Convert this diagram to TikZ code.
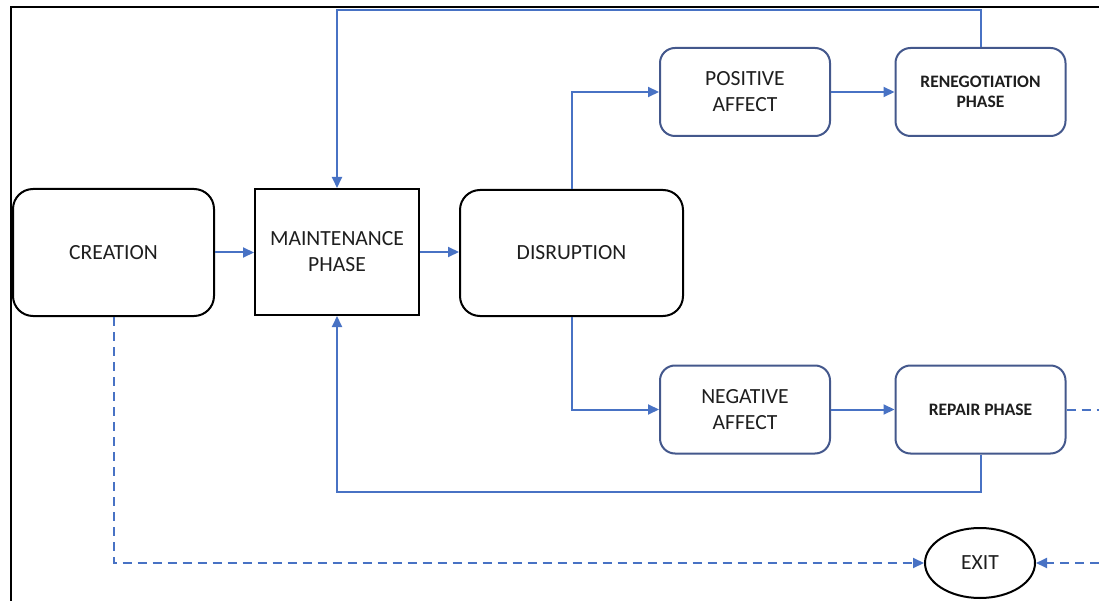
\documentclass[tikz,border=0pt]{standalone}
\usepackage{fontspec}
\setmainfont{Carlito}
\usetikzlibrary{arrows.meta,shapes.geometric}
\definecolor{lnblue}{RGB}{72,114,196}
\definecolor{bxblue}{RGB}{68,88,140}
\definecolor{txt}{RGB}{30,30,30}
\tikzset{
  blackbox/.style={draw=black,line width=2pt,rounded corners=20pt,align=center,text=txt,font=\fontsize{21.6}{26}\selectfont},
  squarebox/.style={draw=black,line width=2pt,align=center,text=txt,font=\fontsize{21.6}{26}\selectfont},
  bluebox/.style={draw=bxblue,line width=2pt,rounded corners=15pt,align=center,text=txt,minimum width=170pt,minimum height=88pt,font=\fontsize{21.6}{26}\selectfont},
  boldbox/.style={bluebox,font=\fontsize{17.5}{20}\selectfont\bfseries},
  conn/.style={draw=lnblue,line width=2pt},
  arr/.style={conn,-{Triangle[length=11pt,width=10pt]}},
  dsh/.style={conn,dash pattern=on 9pt off 6pt},
}
\begin{document}
\begin{tikzpicture}[x=1pt,y=-1pt]
\useasboundingbox (0,0) rectangle (1099,601);
% frame
\draw[line width=2pt,black] (11,601) -- (11,7) -- (1099,7);
% nodes
\node[blackbox,minimum width=201pt,minimum height=127pt] (cre) at (113.5,252.5) {CREATION};
\node[squarebox,minimum width=164pt,minimum height=126pt] (mai) at (337,252) {MAINTENANCE\\PHASE};
\node[blackbox,minimum width=223pt,minimum height=126pt] (dis) at (571.5,253) {DISRUPTION};
\node[bluebox] (pos) at (745,92) {POSITIVE\\AFFECT};
\node[boldbox] (ren) at (980.5,92) {RENEGOTIATION\\PHASE};
\node[bluebox] (neg) at (745,409.5) {NEGATIVE\\AFFECT};
\node[boldbox] (rep) at (980.5,409.5) {REPAIR PHASE};
\node[ellipse,draw=black,line width=2pt,minimum width=110pt,minimum height=70pt,text=txt,font=\fontsize{21.6}{26}\selectfont] (exit) at (980,563) {EXIT};
% coordinates
\coordinate (t) at (337,10);
\coordinate (b) at (337,492);
\coordinate (rx) at (1099,409.5);
\coordinate (ex) at (1099,563);
% connectors
\draw[arr] (cre.east) -- (mai.west |- cre.east);
\draw[arr] (mai.east) -- (dis.west |- mai.east);
\draw[arr] (dis.north) |- (pos.west);
\draw[arr] (dis.south) |- (neg.west);
\draw[arr] (pos.east) -- (ren.west);
\draw[arr] (neg.east) -- (rep.west);
\draw[arr] (ren.north) |- (t) -- (mai.north);
\draw[arr] (rep.south) |- (b) -- (mai.south);
\draw[dsh] (rep.east) -- (rx);
\draw[dsh,-{Triangle[length=11pt,width=10pt]}] (cre.south) |- (exit.west);
\draw[dsh,-{Triangle[length=11pt,width=10pt]}] (ex) -- (exit.east);
\end{tikzpicture}
\end{document}
